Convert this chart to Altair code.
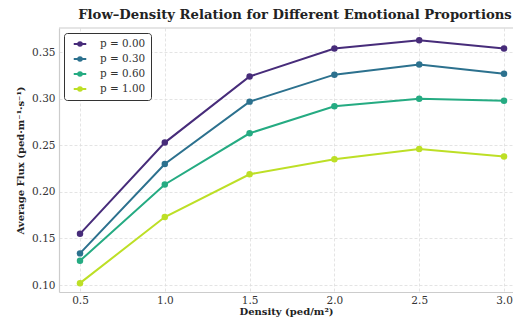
import altair as alt
import pandas as pd

density = [0.5, 1.0, 1.5, 2.0, 2.5, 3.0]
labels = ["p = 0.00", "p = 0.30", "p = 0.60", "p = 1.00"]
flux_p000 = [0.155, 0.253, 0.324, 0.354, 0.363, 0.354]
flux_p030 = [0.134, 0.230, 0.297, 0.326, 0.337, 0.327]
flux_p060 = [0.126, 0.208, 0.263, 0.292, 0.300, 0.298]
flux_p100 = [0.102, 0.173, 0.219, 0.235, 0.246, 0.238]
colors = ["#472c7a", "#2c718e", "#25ab82", "#bddf26"]

rows = []
for lab, vals in zip(labels, [flux_p000, flux_p030, flux_p060, flux_p100]):
    for d, v in zip(density, vals):
        rows.append({"Density": d, "Flux": v, "Series": lab})
df = pd.DataFrame(rows)

W, H = 454, 264
FONT = "DejaVu Serif"

legend_path = "M-1.25,0H1.25M-0.36,0A0.36,0.36 0 1,0 0.36,0A0.36,0.36 0 1,0 -0.36,0Z"

axis_style = dict(labelFont=FONT, labelFontSize=10.5, labelColor="#333333",
                  titleFont=FONT, titleFontSize=10, titleFontWeight="bold",
                  titleColor="#222222", domainColor="#cccccc", domainWidth=1.2,
                  gridColor="#dddddd", gridDash=[3, 2], gridWidth=0.8,
                  grid=True, ticks=False)

lines = alt.Chart(df).mark_line(
    strokeWidth=2,
    point=alt.OverlayMarkDef(filled=True, size=42, opacity=1),
).encode(
    x=alt.X("Density:Q",
            scale=alt.Scale(domain=[0.3762, 3.053], nice=False, zero=False),
            axis=alt.Axis(values=density, format=".1f", title="Density (ped/m²)",
                          labelPadding=3, titleY=22, titleBaseline="alphabetic",
                          **axis_style)),
    y=alt.Y("Flux:Q",
            scale=alt.Scale(domain=[0.0925, 0.3761], nice=False, zero=False),
            axis=alt.Axis(values=[0.10, 0.15, 0.20, 0.25, 0.30, 0.35], format=".2f",
                          title="Average Flux (ped·m⁻¹·s⁻¹)",
                          labelPadding=4, titlePadding=6, **axis_style)),
    color=alt.Color("Series:N",
                    scale=alt.Scale(domain=labels, range=colors),
                    legend=alt.Legend(title=None, orient="none", legendX=5, legendY=5,
                                      symbolType=legend_path, symbolSize=100,
                                      symbolStrokeWidth=2, symbolOffset=5,
                                      labelOffset=14, rowPadding=3,
                                      padding=5, cornerRadius=3,
                                      strokeColor="#333333", fillColor="white",
                                      labelFont=FONT, labelFontSize=10.4,
                                      labelColor="#333333")),
)

topline = alt.Chart(pd.DataFrame({"a": [0]})).mark_rule(
    color="#cccccc", strokeWidth=1.2
).encode(y=alt.value(0), x=alt.value(0), x2=alt.value(W))

chart = alt.layer(topline, lines).properties(
    width=W, height=H,
    title=alt.TitleParams("Flow–Density Relation for Different Emotional Proportions",
                          font=FONT, fontSize=13.2, fontWeight="bold", color="#222222",
                          anchor="middle", offset=5, dx=9),
    autosize=alt.AutoSizeParams(type="none"),
    padding={"left": 51, "top": 20, "right": 0, "bottom": 26},
).configure(background="white").configure_view(stroke=None)

chart.save("out.html", embed_options={"renderer": "svg", "actions": False})
